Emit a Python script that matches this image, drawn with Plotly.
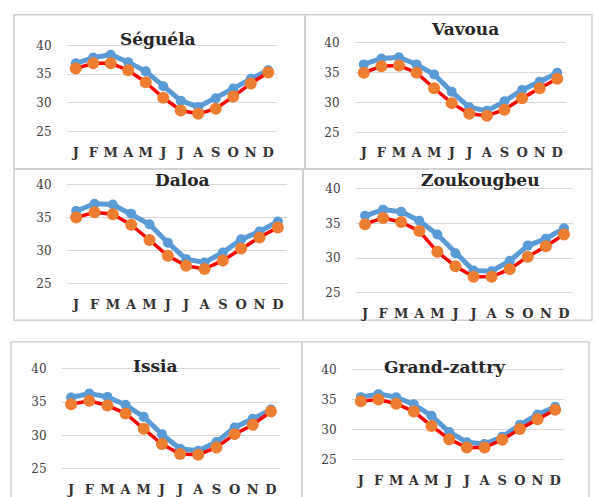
import plotly.graph_objects as go

# Month initials shown under each panel
months = ["J", "F", "M", "A", "M", "J", "J", "A", "S", "O", "N", "D"]
month_idx = list(range(12))

# Stations (panel titles)
stations = ["Séguéla", "Vavoua", "Daloa", "Zoukougbeu", "Issia", "Grand-zattry"]

# Upper series (blue) per station, °C
seguela_a = [36.9, 37.9, 38.4, 37.1, 35.5, 32.9, 30.4, 29.3, 30.8, 32.5, 34.2, 35.7]
vavoua_a = [36.4, 37.4, 37.6, 36.4, 34.7, 31.8, 29.2, 28.6, 30.2, 32.1, 33.5, 35.0]
daloa_a = [36.0, 37.1, 37.0, 35.6, 34.0, 31.2, 28.7, 28.2, 29.7, 31.7, 32.9, 34.4]
zoukougbeu_a = [36.1, 37.0, 36.7, 35.4, 33.4, 30.7, 28.2, 28.1, 29.6, 31.8, 32.8, 34.3]
issia_a = [35.7, 36.3, 35.8, 34.6, 32.8, 30.2, 28.0, 27.7, 29.0, 31.2, 32.5, 33.9]
grandzattry_a = [35.4, 35.9, 35.4, 34.2, 32.3, 29.6, 27.9, 27.6, 28.8, 30.8, 32.5, 33.8]

# Lower series (orange markers on red line) per station, °C
seguela_b = [36.0, 36.9, 36.9, 35.7, 33.6, 30.9, 28.7, 28.1, 29.0, 31.1, 33.4, 35.3]
vavoua_b = [35.0, 36.1, 36.2, 35.0, 32.4, 29.9, 28.1, 27.8, 28.8, 30.7, 32.4, 34.0]
daloa_b = [35.0, 35.8, 35.5, 33.9, 31.6, 29.2, 27.7, 27.2, 28.5, 30.3, 32.0, 33.5]
zoukougbeu_b = [34.9, 35.8, 35.2, 33.9, 30.9, 28.8, 27.3, 27.3, 28.4, 30.2, 31.7, 33.4]
issia_b = [34.7, 35.2, 34.5, 33.3, 31.0, 28.7, 27.2, 27.1, 28.2, 30.2, 31.6, 33.6]
grandzattry_b = [34.7, 35.0, 34.3, 33.0, 30.6, 28.4, 27.0, 27.0, 28.3, 30.1, 31.7, 33.3]

series_a = [seguela_a, vavoua_a, daloa_a, zoukougbeu_a, issia_a, grandzattry_a]
series_b = [seguela_b, vavoua_b, daloa_b, zoukougbeu_b, issia_b, grandzattry_b]

y_ticks = [25, 30, 35, 40]
Y_MIN, Y_MAX, Y_PAD = 25, 40, 0.6

W, H = 594, 497

# Plot areas in pixels: (left, right, y of 40, y of 25)
plot_px = [
    (67, 277, 43.3, 131),
    (355, 566, 40.7, 131.7),
    (67, 287, 185, 285.7),
    (356, 573, 189.3, 295),
    (62, 280, 372.7, 474.3),
    (352, 564, 373.3, 465),
]
# Title centres in pixels
title_px = [(158, 37), (465, 26), (182, 180), (480, 180), (155, 370), (445, 371)]
# Panel frames in pixels: (x0, x1, y0, y1)
frames_px = [
    (14, 305, 12, 169),
    (305, 592, 12, 169),
    (14, 303, 169, 323),
    (303, 592, 169, 323),
    (11, 302, 345, 505),
    (302, 589, 345, 505),
]

BLUE = "#5B9BD5"
ORANGE = "#ED7D31"
RED = "#FF0000"
SERIF = "DejaVu Serif"

fig = go.Figure()
layout = dict(
    width=W, height=H,
    margin=dict(l=0, r=0, t=0, b=0),
    paper_bgcolor="white", plot_bgcolor="white",
    showlegend=False,
    shapes=[], annotations=[],
)

def fx(px):
    return px / W

def fy(py):
    return 1 - py / H

for i in range(6):
    n = "" if i == 0 else str(i + 1)
    xa, ya = "x" + n, "y" + n
    fig.add_trace(go.Scatter(
        x=month_idx, y=series_a[i], xaxis=xa, yaxis=ya, name="Série 1",
        mode="lines+markers", line=dict(color=BLUE, width=5),
        marker=dict(color=BLUE, size=10), cliponaxis=False,
    ))
    fig.add_trace(go.Scatter(
        x=month_idx, y=series_b[i], xaxis=xa, yaxis=ya, name="Série 2",
        mode="lines+markers", line=dict(color=RED, width=3.5),
        marker=dict(color=ORANGE, size=12), cliponaxis=False,
    ))
    l, r, t, b = plot_px[i]
    # widen the vertical domain a little so the 25 and 40 gridlines stay inside
    pad = (b - t) * Y_PAD / (Y_MAX - Y_MIN)
    layout["xaxis" + n] = dict(
        domain=[fx(l), fx(r)], anchor=ya, range=[-0.5, 11.5],
        tickvals=month_idx, ticktext=months, showgrid=False, zeroline=False,
        showline=False, ticks="outside", ticklen=5, tickcolor="rgba(0,0,0,0)",
        tickfont=dict(family=SERIF, size=13, color="#333333", weight="bold"),
        fixedrange=True,
    )
    layout["yaxis" + n] = dict(
        domain=[fy(b + pad), fy(t - pad)], anchor=xa,
        range=[Y_MIN - Y_PAD, Y_MAX + Y_PAD],
        tickvals=y_ticks, showgrid=True, gridcolor="#D9D9D9", gridwidth=1,
        zeroline=False, showline=False, ticks="outside", ticklen=12,
        tickcolor="rgba(0,0,0,0)",
        tickfont=dict(family=SERIF, size=12, color="#404040"),
        fixedrange=True,
    )
    tx, ty = title_px[i]
    layout["annotations"].append(dict(
        text="<b>" + stations[i] + "</b>", x=fx(tx), y=fy(ty),
        xref="paper", yref="paper", showarrow=False,
        xanchor="center", yanchor="middle",
        font=dict(family=SERIF, size=17, color="#262626"),
    ))
    x0, x1, y0, y1 = frames_px[i]
    layout["shapes"].append(dict(
        type="rect", xref="paper", yref="paper",
        x0=fx(x0), x1=fx(x1), y0=fy(y1), y1=fy(y0),
        line=dict(color="#D0D0D0", width=1.5), layer="below",
    ))

fig.update_layout(**layout)
fig.write_html("out.html")
